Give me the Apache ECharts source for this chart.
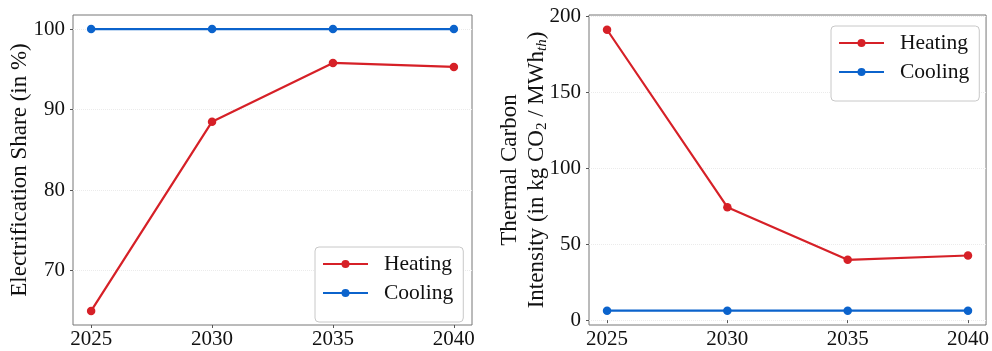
<!DOCTYPE html>
<html>
<head>
<meta charset="utf-8">
<script src="https://cdn.jsdelivr.net/npm/echarts@6/dist/echarts.min.js"></script>
<style>html,body{margin:0;padding:0;background:#fff}#c{width:992px;height:351px}</style>
</head>
<body>
<div id="c"></div>
<script>
const years = [2025, 2030, 2035, 2040];
const heatingShare = [65.0, 88.5, 95.8, 95.3];
const coolingShare = [100, 100, 100, 100];
const heatingIntensity = [191.0, 74.3, 39.7, 42.5];
const coolingIntensity = [6.2, 6.2, 6.2, 6.2];
const yearTicks = [2025, 2030, 2035, 2040];
const shareTicks = [70, 80, 90, 100];
const intensityTicks = [0, 50, 100, 150, 200];

const RED = '#d62027';
const BLUE = '#0b63cc';
const FONT = 'Liberation Serif';
const pairs = v => years.map((y, i) => [y, v[i]]);

function xAxis(gi) {
  return {
    type: 'value', gridIndex: gi, min: 2024.25, max: 2040.75,
    axisLine: {show: false},
    axisTick: {show: true, length: 3, customValues: yearTicks, lineStyle: {color: '#555'}},
    axisLabel: {customValues: yearTicks, formatter: v => String(v), fontFamily: FONT, fontSize: 21, color: '#111', margin: 4},
    splitLine: {show: false}
  };
}
function yAxis(gi, min, max, ticks, name, nameGap, extra) {
  return Object.assign({
    type: 'value', gridIndex: gi, min: min, max: max,
    axisLine: {show: false},
    axisTick: {show: true, length: 3, customValues: ticks, lineStyle: {color: '#555'}},
    axisLabel: {customValues: ticks, formatter: v => String(v), fontFamily: FONT, fontSize: 21, color: '#111', margin: 8},
    splitLine: {show: true, lineStyle: {color: '#ebebeb', type: 'dotted', width: 1}},
    name: name, nameLocation: 'middle', nameRotate: 90, nameGap: nameGap, nameMoveOverlap: false,
    nameTextStyle: {fontFamily: FONT, fontSize: 23, color: '#111'}
  }, extra || {});
}
function legend(left, top) {
  return {
    left: left, top: top, orient: 'vertical',
    data: ['Heating', 'Cooling'],
    itemWidth: 45, itemHeight: 10, itemGap: 7,
    backgroundColor: '#fff', borderColor: '#c8c8c8', borderWidth: 1, borderRadius: 4,
    padding: [6, 10, 18, 7],
    textStyle: {fontFamily: FONT, fontSize: 21.5, color: '#111', lineHeight: 22, padding: [0, 0, 0, 11]}
  };
}
function series(name, gi, data, color) {
  return {
    name: name, type: 'line', xAxisIndex: gi, yAxisIndex: gi, data: pairs(data),
    symbol: 'circle', symbolSize: 8.5, showSymbol: true,
    lineStyle: {color: color, width: 2.2}, itemStyle: {color: color},
    emphasis: {disabled: true}, animation: false
  };
}

const chart = echarts.init(document.getElementById('c'), null, {renderer: 'canvas'});
chart.setOption({
  animation: false,
  grid: [
    {left: 73, top: 15, width: 399, height: 310, show: true, borderColor: '#777', borderWidth: 1, backgroundColor: 'transparent'},
    {left: 589, top: 15, width: 398, height: 310, show: true, borderColor: '#777', borderWidth: 1, backgroundColor: 'transparent'}
  ],
  xAxis: [xAxis(0), xAxis(1)],
  yAxis: [
    yAxis(0, 63.25, 101.75, shareTicks, 'Electrification Share (in %)', 42),
    yAxis(1, -3.2, 200.7, intensityTicks,
      '{a|Thermal Carbon}\n{a|Intensity (in kg CO}{s|2}{a| / MWh}{t|th}{a|)}', 39,
      {nameTextStyle: {fontFamily: FONT, fontSize: 23, color: '#111', lineHeight: 27, align: 'center',
        rich: {
          a: {fontFamily: FONT, fontSize: 23, color: '#111', lineHeight: 27},
          s: {fontFamily: FONT, fontSize: 15, color: '#111', lineHeight: 27, verticalAlign: 'bottom'},
          t: {fontFamily: FONT, fontSize: 15, fontStyle: 'italic', color: '#111', lineHeight: 27, verticalAlign: 'bottom'}
        }}})
  ],
  legend: [legend(315, 247), legend(831, 26)],
  series: [
    series('Heating', 0, heatingShare, RED),
    series('Cooling', 0, coolingShare, BLUE),
    series('Heating', 1, heatingIntensity, RED),
    series('Cooling', 1, coolingIntensity, BLUE)
  ]
});
</script>
</body>
</html>
